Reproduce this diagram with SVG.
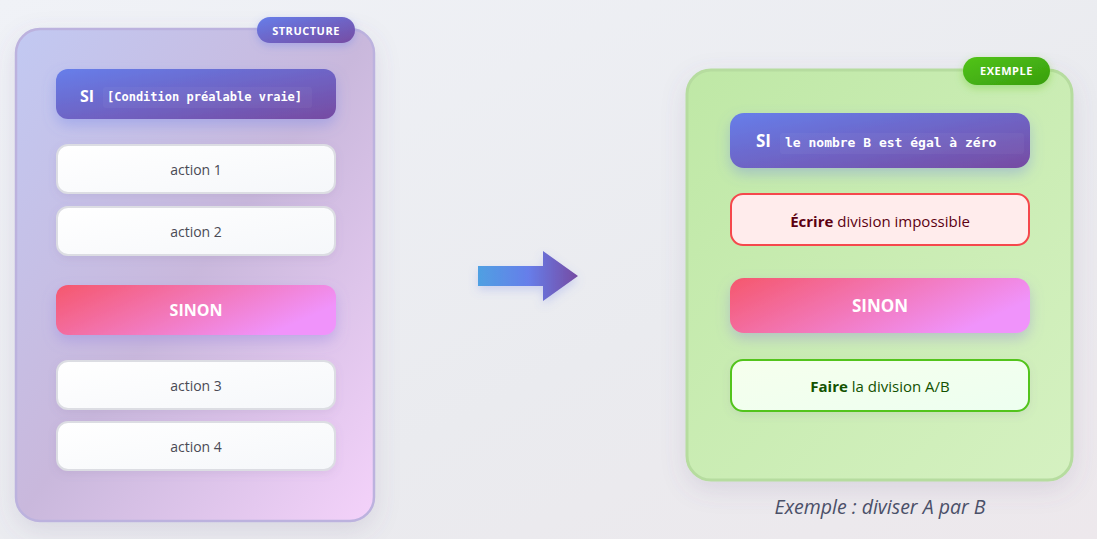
<svg xmlns="http://www.w3.org/2000/svg" width="1097" height="539" viewBox="0 0 1097 539">
<defs>
<linearGradient id="bg" x1="0" y1="0" x2="1" y2="1"><stop offset="0" stop-color="#f0f2f7"/><stop offset="0.6" stop-color="#eaebef"/><stop offset="1" stop-color="#ede8ec"/></linearGradient>
<linearGradient id="panelL" x1="0" y1="0" x2="1" y2="1"><stop offset="0" stop-color="#c2c9f2"/><stop offset="0.5" stop-color="#c9b8dc"/><stop offset="1" stop-color="#f4d2fa"/></linearGradient>
<linearGradient id="panelR" x1="0" y1="0" x2="1" y2="1"><stop offset="0" stop-color="#bfe8a6"/><stop offset="1" stop-color="#d5f1c1"/></linearGradient>
<linearGradient id="purple" x1="0" y1="0" x2="1" y2="1"><stop offset="0" stop-color="#667eea"/><stop offset="1" stop-color="#764ba2"/></linearGradient>
<linearGradient id="pink" x1="0" y1="0" x2="1" y2="0.4"><stop offset="0" stop-color="#f5576c"/><stop offset="1" stop-color="#f093fb"/></linearGradient>
<linearGradient id="green" x1="0" y1="0" x2="1" y2="1"><stop offset="0" stop-color="#52c41a"/><stop offset="1" stop-color="#389e0d"/></linearGradient>
<linearGradient id="white" x1="0" y1="0" x2="1" y2="1"><stop offset="0" stop-color="#ffffff"/><stop offset="1" stop-color="#f5f7fa"/></linearGradient>
<linearGradient id="okfill" x1="0" y1="0" x2="1" y2="1"><stop offset="0" stop-color="#f6ffed"/><stop offset="1" stop-color="#edfff0"/></linearGradient>
<linearGradient id="arrowg" x1="478" y1="0" x2="578" y2="0" gradientUnits="userSpaceOnUse"><stop offset="0" stop-color="#4fa0e2"/><stop offset="0.5" stop-color="#667eea"/><stop offset="1" stop-color="#764ba2"/></linearGradient>
<filter id="shPanel" x="-20%" y="-20%" width="140%" height="140%"><feDropShadow dx="0" dy="8" stdDeviation="12" flood-color="#6a5a8a" flood-opacity="0.15"/></filter>
<filter id="shPurple" x="-20%" y="-50%" width="140%" height="220%"><feDropShadow dx="0" dy="6" stdDeviation="7" flood-color="#667eea" flood-opacity="0.35"/></filter>
<filter id="shPink" x="-20%" y="-50%" width="140%" height="220%"><feDropShadow dx="0" dy="6" stdDeviation="7" flood-color="#8a7ae0" flood-opacity="0.35"/></filter>
<filter id="shSoft" x="-20%" y="-50%" width="140%" height="220%"><feDropShadow dx="0" dy="3" stdDeviation="4" flood-color="#7a6a9a" flood-opacity="0.12"/></filter>
<filter id="shBadge" x="-30%" y="-60%" width="160%" height="240%"><feDropShadow dx="0" dy="3" stdDeviation="4" flood-color="#667eea" flood-opacity="0.35"/></filter>
<filter id="shBadgeG" x="-30%" y="-60%" width="160%" height="240%"><feDropShadow dx="0" dy="3" stdDeviation="4" flood-color="#52c41a" flood-opacity="0.35"/></filter>
<filter id="shArrow" x="-30%" y="-50%" width="160%" height="200%"><feDropShadow dx="0" dy="4" stdDeviation="5" flood-color="#667eea" flood-opacity="0.25"/></filter>
</defs>
<style>
.sans{font-family:"Open Sans","Noto Sans","Liberation Sans",sans-serif}
.mono{font-family:"DejaVu Sans Mono","Liberation Mono",monospace;font-weight:bold;fill:#ffffff}
.badge{font-family:"Open Sans","Noto Sans","Liberation Sans",sans-serif;font-weight:bold;font-size:11px;fill:#ffffff;letter-spacing:0.5px}
.act{font-family:"Open Sans","Noto Sans","Liberation Sans",sans-serif;font-size:14px;fill:#4a4a55}
.head{font-family:"Open Sans","Noto Sans","Liberation Sans",sans-serif;font-weight:bold;fill:#ffffff}
.actbox{fill:url(#white);stroke:#dcdde3;stroke-width:2}
</style>
<rect width="1097" height="539" fill="url(#bg)"/>

<g id="panel-structure">
<rect x="16" y="29" width="358" height="492" rx="24" fill="url(#panelL)" stroke="#bcb2de" stroke-width="2.5" filter="url(#shPanel)"/>
</g>
<g id="badge-structure">
<rect x="257" y="17" width="98" height="26" rx="13" fill="url(#purple)" filter="url(#shBadge)"/>
<text x="306" y="34.5" text-anchor="middle" class="badge">STRUCTURE</text>
</g>
<g id="si-structure">
<rect x="56" y="69" width="280" height="50" rx="12" fill="url(#purple)" filter="url(#shPurple)"/>
<rect x="103" y="87" width="209" height="21" rx="3" fill="#ffffff" fill-opacity="0.04"/>
<text x="80" y="102" class="head" font-size="16">SI</text>
<text x="107" y="101" class="mono" font-size="12">[Condition préalable vraie]</text>
</g>
<g id="action1">
<rect x="57" y="145" width="278" height="48" rx="11" class="actbox" filter="url(#shSoft)"/>
<text x="196" y="175" text-anchor="middle" class="act">action 1</text>
</g>
<g id="action2">
<rect x="57" y="207" width="278" height="48" rx="11" class="actbox" filter="url(#shSoft)"/>
<text x="196" y="237" text-anchor="middle" class="act">action 2</text>
</g>
<g id="sinon-structure">
<rect x="56" y="285" width="280" height="50" rx="12" fill="url(#pink)" filter="url(#shPink)"/>
<text x="196" y="316" text-anchor="middle" class="head" font-size="16">SINON</text>
</g>
<g id="action3">
<rect x="57" y="361" width="278" height="48" rx="11" class="actbox" filter="url(#shSoft)"/>
<text x="196" y="391" text-anchor="middle" class="act">action 3</text>
</g>
<g id="action4">
<rect x="57" y="422" width="278" height="48" rx="11" class="actbox" filter="url(#shSoft)"/>
<text x="196" y="452" text-anchor="middle" class="act">action 4</text>
</g>

<g id="connectors">
<polygon points="478,266 543,266 543,251 578,276 543,301 543,286 478,286" fill="url(#arrowg)" filter="url(#shArrow)"/>
</g>

<g id="panel-exemple">
<rect x="687" y="70" width="385" height="410" rx="24" fill="url(#panelR)" stroke="#b6dc9f" stroke-width="3" filter="url(#shPanel)"/>
</g>
<g id="badge-exemple">
<rect x="963" y="57" width="87" height="28" rx="14" fill="url(#green)" filter="url(#shBadgeG)"/>
<text x="1006.5" y="75" text-anchor="middle" class="badge" font-size="11.5">EXEMPLE</text>
</g>
<g id="si-exemple">
<rect x="730" y="113" width="300" height="55" rx="14" fill="url(#purple)" filter="url(#shPurple)"/>
<rect x="780" y="133" width="244" height="21" rx="3" fill="#ffffff" fill-opacity="0.04"/>
<text x="756" y="147" class="head" font-size="17">SI</text>
<text x="785" y="147" class="mono" font-size="13">le nombre B est égal à zéro</text>
</g>
<g id="ecrire">
<rect x="731" y="194" width="298" height="51" rx="12" fill="#ffecec" stroke="#f5484c" stroke-width="2"/>
<text x="880" y="227" text-anchor="middle" class="sans" font-size="15" fill="#5c0011"><tspan font-weight="bold">Écrire</tspan> division impossible</text>
</g>
<g id="sinon-exemple">
<rect x="730" y="278" width="300" height="55" rx="14" fill="url(#pink)" filter="url(#shPink)"/>
<text x="880" y="312" text-anchor="middle" class="head" font-size="17">SINON</text>
</g>
<g id="faire">
<rect x="731" y="360" width="298" height="51" rx="12" fill="url(#okfill)" stroke="#52c41a" stroke-width="2" filter="url(#shSoft)"/>
<text x="880" y="392" text-anchor="middle" class="sans" font-size="15" fill="#135200"><tspan font-weight="bold">Faire</tspan> la division A/B</text>
</g>
<g id="caption">
<text x="880" y="514" text-anchor="middle" class="sans" font-size="19.5" font-style="italic" fill="#4a5068">Exemple : diviser A par B</text>
</g>
</svg>
